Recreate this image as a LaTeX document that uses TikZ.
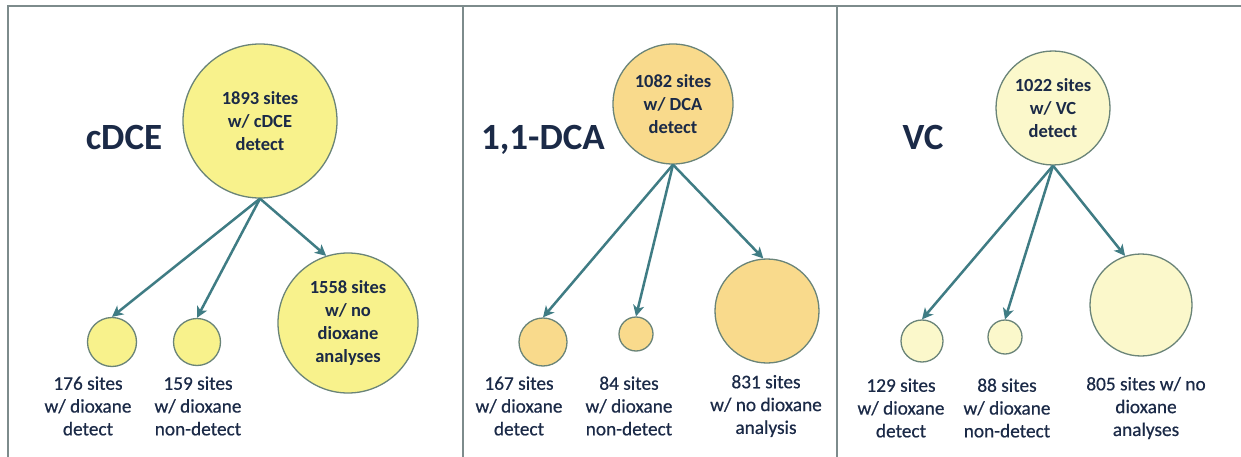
\documentclass[tikz,border=0pt]{standalone}
\usepackage{fontspec}
\setmainfont{Carlito}
\newfontfamily\labfont{Carlito}[FakeBold=0.5]
\usetikzlibrary{arrows.meta}
\definecolor{navy}{HTML}{1B2A47}
\definecolor{teal2}{HTML}{3F7C84}
\definecolor{frame}{HTML}{7D8B8C}
\definecolor{ringc}{HTML}{6A8478}
\definecolor{yelA}{HTML}{F8F28C}
\definecolor{orB}{HTML}{F9DA8C}
\definecolor{yelC}{HTML}{FBF8CB}
\tikzset{
 bubble/.style={circle, draw=ringc, line width=1.3pt, inner sep=0pt, text=navy, font=\bfseries\fontsize{18.5}{23}\selectfont, align=center},
 title/.style={text=navy, font=\bfseries\fontsize{37}{40}\selectfont, anchor=base, inner sep=0pt},
 lab/.style={text=navy, font=\labfont\fontsize{19.3}{22.8}\selectfont, align=center, inner sep=0pt},
 flow/.style={draw=teal2, line width=2.5pt, -{Stealth[length=11pt,width=11pt,inset=3pt]}},
 panel/.style={draw=frame, line width=2.5pt}
}
\begin{document}
\begin{tikzpicture}[x=1pt,y=-1pt]
\useasboundingbox (0,0) rectangle (1241,457);
\fill[white] (0,0) rectangle (1241,457);
\draw[panel] (8,457) -- (8,6) -- (1241,6);
\draw[panel] (463,6) -- (463,457);
\draw[panel] (837,6) -- (837,457);

% Panel 1
\node[title] (t1) at (124,150) {cDCE};
\node[bubble, fill=yelA, minimum size=154] (a0) at (260,121) {1893 sites\\w/ cDCE\\detect};
\node[bubble, fill=yelA, minimum size=49] (a1) at (112,342) {};
\node[bubble, fill=yelA, minimum size=47] (a2) at (197,342) {};
\node[bubble, fill=yelA, minimum size=140] (a3) at (348,323) {1558 sites\\w/ no\\dioxane\\analyses};
\node[lab] (l1) at (88,406) {176 sites\\w/ dioxane\\detect};
\node[lab] (l2) at (198,406) {159 sites\\w/ dioxane\\non-detect};
\draw[flow] (a0.south) -- (a1.north);
\draw[flow] (a0.south) -- (a2.north);
\draw[flow] (a0.south) -- (a3.108);

% Panel 2
\node[title] (t2) at (543,150) {1,1-DCA};
\node[bubble, fill=orB, minimum size=120] (b0) at (673,104) {1082 sites\\w/ DCA\\detect};
\node[bubble, fill=orB, minimum size=48] (b1) at (543,342) {};
\node[bubble, fill=orB, minimum size=34] (b2) at (636,334) {};
\node[bubble, fill=orB, minimum size=104] (b3) at (767,311) {};
\node[lab] (m1) at (519,406) {167 sites\\w/ dioxane\\detect};
\node[lab] (m2) at (629,406) {84 sites\\w/ dioxane\\non-detect};
\node[lab] (m3) at (766,406) {831 sites\\w/ no dioxane\\analysis};
\draw[flow] (b0.south) -- (b1.north);
\draw[flow] (b0.south) -- (b2.north);
\draw[flow] (b0.south) -- (b3.94);

% Panel 3
\node[title] (t3) at (923,150) {VC};
\node[bubble, fill=yelC, minimum size=114] (c0) at (1053,108) {1022 sites\\w/ VC\\detect};
\node[bubble, fill=yelC, minimum size=42] (c1) at (922,341) {};
\node[bubble, fill=yelC, minimum size=34] (c2) at (1005,337) {};
\node[bubble, fill=yelC, minimum size=102] (c3) at (1141,305) {};
\node[lab] (n1) at (901,408) {129 sites\\w/ dioxane\\detect};
\node[lab] (n2) at (1007,408) {88 sites\\w/ dioxane\\non-detect};
\node[lab] (n3) at (1146,408) {805 sites w/ no\\dioxane\\analyses};
\draw[flow] (c0.south) -- (c1.north);
\draw[flow] (c0.south) -- (c2.north);
\draw[flow] (c0.south) -- (c3.108);
\end{tikzpicture}
\end{document}
